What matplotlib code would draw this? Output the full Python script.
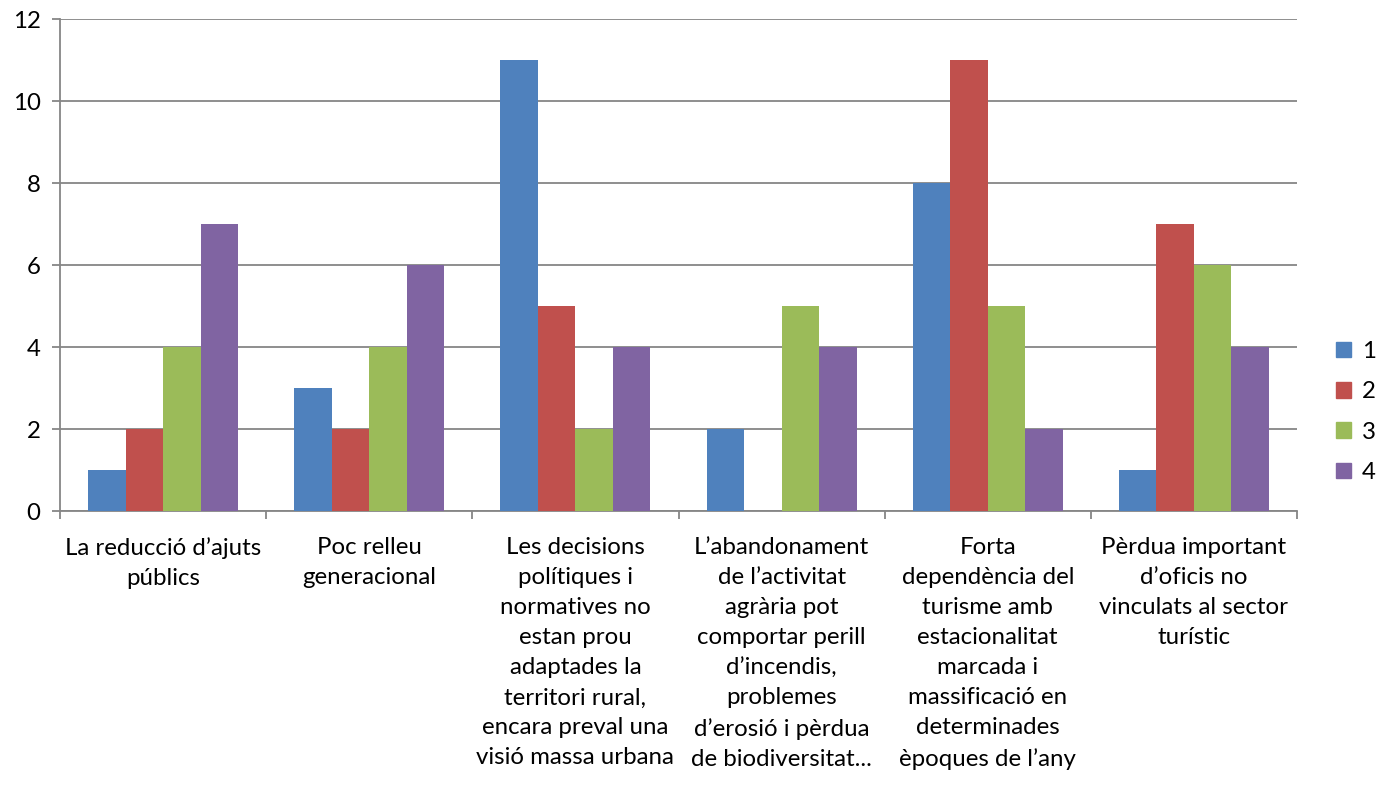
import matplotlib
matplotlib.use("Agg")
import matplotlib.pyplot as plt
import numpy as np
from matplotlib.patches import Patch

categories = [
    "La reducció d’ajuts\npúblics",
    "Poc relleu\ngeneracional",
    "Les decisions\npolítiques i\nnormatives no\nestan prou\nadaptades la\nterritori rural,\nencara preval una\nvisió massa urbana",
    "L’abandonament\nde l’activitat\nagrària pot\ncomportar perill\nd’incendis,\nproblemes\nd’erosió i pèrdua\nde biodiversitat...",
    "Forta\ndependència del\nturisme amb\nestacionalitat\nmarcada i\nmassificació en\ndeterminades\nèpoques de l’any",
    "Pèrdua important\nd’oficis no\nvinculats al sector\nturístic",
]
series_names = ["1", "2", "3", "4"]
s1 = [1, 3, 11, 2, 8, 1]
s2 = [2, 2, 5, 0, 11, 7]
s3 = [4, 4, 2, 5, 5, 6]
s4 = [7, 6, 4, 4, 2, 4]
series = [s1, s2, s3, s4]
colors = ["#4F81BD", "#C0504D", "#9BBB59", "#8064A2"]

plt.rcParams['font.family'] = ['Lato', 'DejaVu Sans']
FS = 17.3

W, H = 1388, 787
fig = plt.figure(figsize=(W/100, H/100), dpi=100)
ax = fig.add_axes([60/W, 1-511/H, (1297-60)/W, (511-19)/H])

x = np.arange(len(categories))
bw = 0.182
for i, (vals, c) in enumerate(zip(series, colors)):
    ax.bar(x + (i - 1.5)*bw, vals, width=bw, color=c, zorder=3, linewidth=0)

ax.set_xlim(-0.5, len(categories)-0.5)
ax.set_ylim(0, 12)
ax.set_yticks(range(0, 13, 2))
ax.yaxis.grid(True, color="#868686", linewidth=1.3, zorder=0)
for s in ["top", "right"]:
    ax.spines[s].set_visible(False)
for s in ["left", "bottom"]:
    ax.spines[s].set_color("#868686")
    ax.spines[s].set_linewidth(1.3)
ax.tick_params(axis='y', length=6, color="#868686", width=1.3, labelsize=FS, pad=8)
ax.set_xticks(x)
ax.set_xticklabels(categories, fontsize=FS, linespacing=1.53)
ax.tick_params(axis='x', which='major', length=0, pad=19)
ax.set_xticks(np.arange(-0.5, len(categories), 1), minor=True)
ax.tick_params(axis='x', which='minor', length=6, color="#868686", width=1.3)

handles = [Patch(color=c, label=n) for c, n in zip(colors, series_names)]
fig.legend(handles=handles, loc='center left', bbox_to_anchor=(1336/W, 1-412/H),
           frameon=False, fontsize=FS, handlelength=0.62, handleheight=0.62,
           handletextpad=0.45, labelspacing=0.8, borderpad=0, borderaxespad=0)

fig.savefig("out.png", dpi=100)
